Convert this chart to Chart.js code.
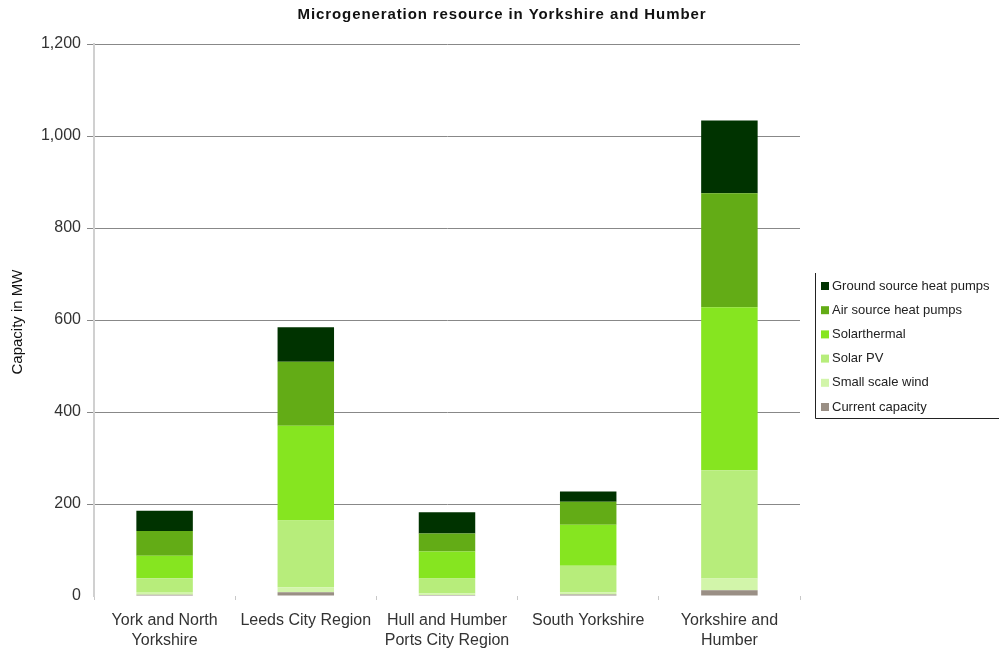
<!DOCTYPE html>
<html>
<head>
<meta charset="utf-8">
<script src="https://cdn.jsdelivr.net/npm/chart.js@4.4.1/dist/chart.umd.min.js"></script>
<style>
  html, body { margin: 0; padding: 0; background: #fff; }
  #wrap { width: 999px; height: 650px; position: relative; }
</style>
</head>
<body>
<div id="wrap"><canvas id="chart"></canvas></div>
<script>
// data (MW)
const regions = [
  ["York and North", "Yorkshire"],
  "Leeds City Region",
  ["Hull and Humber", "Ports City Region"],
  "South Yorkshire",
  ["Yorkshire and", "Humber"]
];
const currentCapacity = [2.5, 8, 2, 3, 12.5];
const smallWind = [6, 11, 4, 5, 25.5];
const solarPV = [30, 145, 32, 58, 235.5];
const solarThermal = [49, 206, 59, 89, 354];
const airSource = [54, 139, 39, 50, 248];
const groundSource = [44, 75, 46, 22, 158];
const yTicks = [0, 200, 400, 600, 800, 1000, 1200];

const FONT = "'Liberation Sans', Arial, sans-serif";

const series = [
  { label: "Current capacity", data: currentCapacity, color: "#9a8f85" },
  { label: "Small scale wind", data: smallWind, color: "#d2f5aa" },
  { label: "Solar PV", data: solarPV, color: "#b7ed7b" },
  { label: "Solarthermal", data: solarThermal, color: "#86e520" },
  { label: "Air source heat pumps", data: airSource, color: "#63ac16" },
  { label: "Ground source heat pumps", data: groundSource, color: "#003300" }
];

// title, y title and boxed legend drawn by hand
const extras = {
  id: "extras",
  afterDraw(chart) {
    const ctx = chart.ctx;
    ctx.save();
    ctx.fillStyle = "#111";
    ctx.font = "bold 15px " + FONT;
    ctx.letterSpacing = "0.9px";
    ctx.textAlign = "center";
    ctx.textBaseline = "middle";
    ctx.fillText("Microgeneration resource in Yorkshire and Humber", 502, 15);
    ctx.letterSpacing = "0px";

    ctx.translate(18, 322);
    ctx.rotate(-Math.PI / 2);
    ctx.font = "15px " + FONT;
    ctx.fillText("Capacity in MW", 0, 0);
    ctx.restore();

    // legend
    ctx.save();
    const lx = 815, ly = 273, lh = 145;
    ctx.strokeStyle = "#222";
    ctx.lineWidth = 1;
    ctx.beginPath();
    ctx.moveTo(lx + 0.5, ly);
    ctx.lineTo(lx + 0.5, ly + lh + 0.5);
    ctx.lineTo(999, ly + lh + 0.5);
    ctx.stroke();
    ctx.font = "13px " + FONT;
    ctx.textBaseline = "middle";
    ctx.textAlign = "left";
    const ds = chart.data.datasets.slice().reverse();
    ds.forEach((d, i) => {
      const y = 286 + i * 24.2;
      ctx.fillStyle = d.backgroundColor;
      ctx.fillRect(821, y - 4, 8, 8);
      ctx.fillStyle = "#222";
      ctx.fillText(d.label, 832, y);
    });
    ctx.restore();
  }
};

new Chart(document.getElementById("chart"), {
  type: "bar",
  data: {
    labels: regions,
    datasets: series.map(s => ({
      label: s.label,
      data: s.data,
      backgroundColor: s.color,
      borderWidth: 0,
      categoryPercentage: 1,
      barPercentage: 0.4
    }))
  },
  options: {
    responsive: true,
    maintainAspectRatio: false,
    animation: false,
    layout: { padding: { top: 44, right: 199, bottom: 0, left: 0 } },
    plugins: {
      legend: { display: false },
      title: { display: false },
      tooltip: { enabled: false }
    },
    scales: {
      x: {
        stacked: true,
        afterFit: s => { s.height = 54; },
        grid: {
          offset: true,
          drawOnChartArea: false,
          tickLength: 4,
          color: "#c8c8c8"
        },
        border: { display: false },
        ticks: {
          color: "#333",
          font: { family: FONT, size: 16, lineHeight: 1.25 },
          padding: 11,
          maxRotation: 0
        }
      },
      y: {
        stacked: true,
        min: 0,
        max: 1200,
        afterFit: s => { s.width = 94; },
        afterBuildTicks: s => { s.ticks = yTicks.map(v => ({ value: v })); },
        grid: {
          color: ctx => ctx.tick && ctx.tick.value === 0 ? "rgba(0,0,0,0)" : "#888",
          tickLength: 7,
          lineWidth: 1
        },
        border: { display: true, color: "#d0d0d0", width: 2 },
        ticks: {
          color: "#333",
          font: { family: FONT, size: 16 },
          padding: 6,
          callback: v => v.toLocaleString("en-US")
        }
      }
    }
  },
  plugins: [extras]
});
</script>
</body>
</html>
